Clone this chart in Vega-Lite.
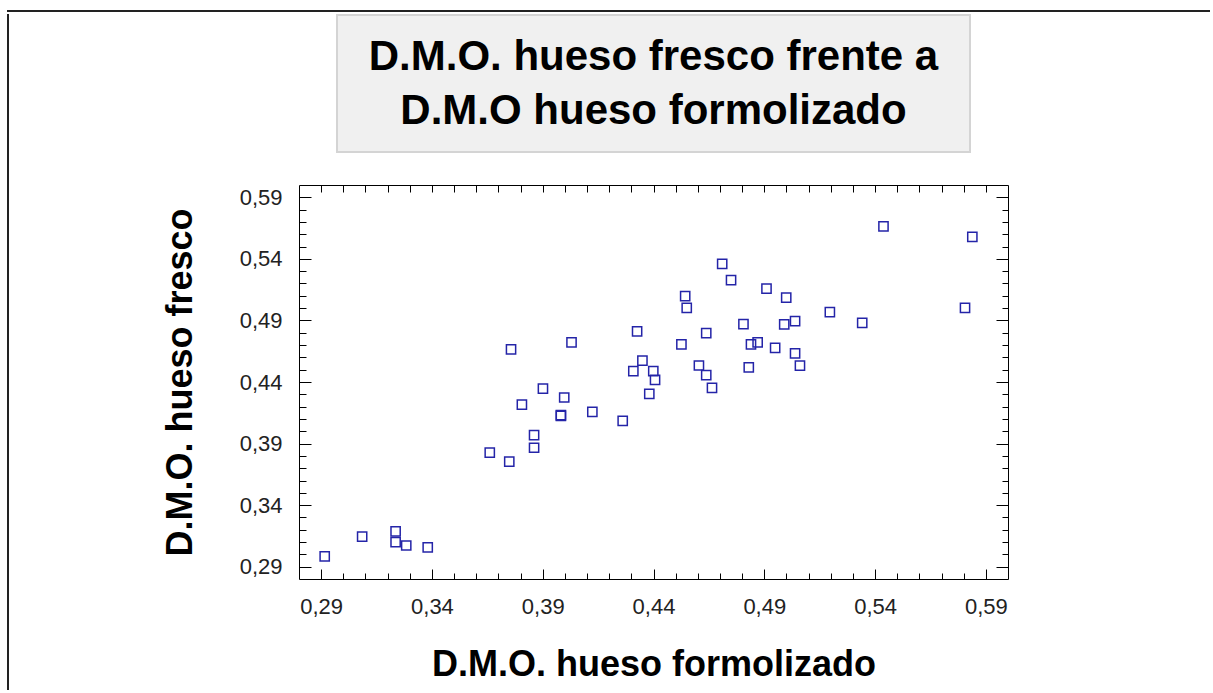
{
  "$schema": "https://vega.github.io/schema/vega-lite/v6.json",
  "background": "white",
  "padding": {"left": 6, "top": 10, "right": 0, "bottom": 0},
  "config": {"view": {"stroke": null}},
  "datasets": {
    "pts": [
      {"x": 0.2916, "y": 0.2983},
      {"x": 0.3085, "y": 0.3145},
      {"x": 0.3236, "y": 0.3186},
      {"x": 0.3236, "y": 0.3100},
      {"x": 0.3284, "y": 0.3072},
      {"x": 0.3381, "y": 0.3056},
      {"x": 0.3661, "y": 0.3826},
      {"x": 0.3749, "y": 0.3753},
      {"x": 0.3757, "y": 0.4665},
      {"x": 0.3806, "y": 0.4217},
      {"x": 0.3861, "y": 0.3969},
      {"x": 0.3861, "y": 0.3866},
      {"x": 0.3901, "y": 0.4347},
      {"x": 0.3997, "y": 0.4274},
      {"x": 0.3982, "y": 0.4131},
      {"x": 0.3982, "y": 0.4125},
      {"x": 0.4030, "y": 0.4722},
      {"x": 0.4124, "y": 0.4158},
      {"x": 0.4261, "y": 0.4085},
      {"x": 0.4309, "y": 0.4489},
      {"x": 0.4326, "y": 0.4811},
      {"x": 0.4350, "y": 0.4574},
      {"x": 0.4381, "y": 0.4304},
      {"x": 0.4399, "y": 0.4489},
      {"x": 0.4407, "y": 0.4418},
      {"x": 0.4526, "y": 0.4706},
      {"x": 0.4543, "y": 0.5098},
      {"x": 0.4550, "y": 0.5002},
      {"x": 0.4605, "y": 0.4534},
      {"x": 0.4638, "y": 0.4797},
      {"x": 0.4638, "y": 0.4455},
      {"x": 0.4664, "y": 0.4353},
      {"x": 0.4710, "y": 0.5359},
      {"x": 0.4750, "y": 0.5227},
      {"x": 0.4806, "y": 0.4870},
      {"x": 0.4830, "y": 0.4519},
      {"x": 0.4840, "y": 0.4706},
      {"x": 0.4870, "y": 0.4722},
      {"x": 0.4910, "y": 0.5159},
      {"x": 0.4949, "y": 0.4677},
      {"x": 0.4990, "y": 0.4868},
      {"x": 0.4999, "y": 0.5086},
      {"x": 0.5039, "y": 0.4894},
      {"x": 0.5039, "y": 0.4633},
      {"x": 0.5061, "y": 0.4533},
      {"x": 0.5196, "y": 0.4968},
      {"x": 0.5342, "y": 0.4881},
      {"x": 0.5438, "y": 0.5664},
      {"x": 0.5806, "y": 0.5002},
      {"x": 0.5839, "y": 0.5578}
    ],
    "titulo": [{"t": ["D.M.O. hueso fresco frente a", "D.M.O hueso formolizado"]}],
    "marco": []
  },
  "vconcat": [
    {
      "width": 1203,
      "height": 1,
      "view": {"stroke": "#222222", "strokeWidth": 2, "strokeDash": [1203, 3000], "fill": null},
      "data": {"name": "marco"},
      "mark": {"type": "text", "opacity": 0},
      "encoding": {"text": {"field": "t", "type": "nominal"}}
    },
    {
      "hconcat": [
        {
          "width": 1,
          "height": 675,
          "view": {"stroke": "#222222", "strokeWidth": 2, "strokeDash": [676, 3000], "fill": null},
          "data": {"name": "marco"},
          "mark": {"type": "text", "opacity": 0},
          "encoding": {"text": {"field": "t", "type": "nominal"}}
        },
        {
          "vconcat": [
            {
              "width": 633,
              "height": 137,
              "view": {"fill": "#f0f0f0", "stroke": "#d4d4d4", "strokeWidth": 2},
              "data": {"name": "titulo"},
              "mark": {"type": "text", "font": "Liberation Sans", "fontWeight": "bold", "fontSize": 42, "lineHeight": 54, "align": "center", "baseline": "middle", "dy": -27, "color": "black"},
              "encoding": {"text": {"field": "t", "type": "nominal"}}
            },
            {
              "width": 709,
              "height": 394,
              "view": {"stroke": "black", "strokeWidth": 1, "fill": "white"},
              "data": {"name": "pts"},
              "layer": [
                {
                  "mark": {"type": "point", "shape": "square", "filled": false, "size": 85, "strokeWidth": 1.5, "color": "#2424a8", "opacity": 1},
                  "encoding": {
                    "x": {
                      "field": "x", "type": "quantitative",
                      "scale": {"domain": [0.28, 0.6], "nice": false, "zero": false},
                      "axis": {
                        "orient": "bottom",
                        "values": [0.29,0.30,0.31,0.32,0.33,0.34,0.35,0.36,0.37,0.38,0.39,0.40,0.41,0.42,0.43,0.44,0.45,0.46,0.47,0.48,0.49,0.50,0.51,0.52,0.53,0.54,0.55,0.56,0.57,0.58,0.59],
                        "labelExpr": "(round(datum.value*100) - 29) % 5 == 0 ? replace(format(datum.value, '.2f'), '.', ',') : ''",
                        "tickSize": {"condition": {"test": "(round(datum.value*100) - 29) % 5 == 0", "value": -10}, "value": -6},
                        "tickColor": "black", "tickWidth": 1,
                        "domain": false, "grid": false,
                        "labelFont": "Liberation Sans", "labelFontSize": 22, "labelColor": "#222222",
                        "labelPadding": 27, "labelOverlap": false, "labelFlush": false, "labelBound": false,
                        "title": "D.M.O. hueso formolizado",
                        "titleFont": "Liberation Sans", "titleFontSize": 36, "titleFontWeight": "bold", "titleColor": "black",
                        "titlePadding": 26
                      }
                    },
                    "y": {
                      "field": "y", "type": "quantitative",
                      "scale": {"domain": [0.28, 0.6], "nice": false, "zero": false},
                      "axis": {
                        "orient": "left",
                        "values": [0.29,0.30,0.31,0.32,0.33,0.34,0.35,0.36,0.37,0.38,0.39,0.40,0.41,0.42,0.43,0.44,0.45,0.46,0.47,0.48,0.49,0.50,0.51,0.52,0.53,0.54,0.55,0.56,0.57,0.58,0.59],
                        "labelExpr": "(round(datum.value*100) - 29) % 5 == 0 ? replace(format(datum.value, '.2f'), '.', ',') : ''",
                        "tickSize": {"condition": {"test": "(round(datum.value*100) - 29) % 5 == 0", "value": -12}, "value": -7},
                        "tickColor": "black", "tickWidth": 1,
                        "domain": false, "grid": false,
                        "labelFont": "Liberation Sans", "labelFontSize": 22, "labelColor": "#222222",
                        "labelPadding": 29, "labelOverlap": false, "labelFlush": false, "labelBound": false,
                        "title": "D.M.O. hueso fresco",
                        "titleFont": "Liberation Sans", "titleFontSize": 36, "titleFontWeight": "bold", "titleColor": "black",
                        "titlePadding": 40
                      }
                    }
                  }
                },
                {
                  "mark": {"type": "point", "opacity": 0},
                  "encoding": {
                    "x": {
                      "field": "x", "type": "quantitative",
                      "axis": {
                        "orient": "top",
                        "values": [0.29,0.30,0.31,0.32,0.33,0.34,0.35,0.36,0.37,0.38,0.39,0.40,0.41,0.42,0.43,0.44,0.45,0.46,0.47,0.48,0.49,0.50,0.51,0.52,0.53,0.54,0.55,0.56,0.57,0.58,0.59],
                        "labels": false, "title": null, "domain": false, "grid": false,
                        "tickSize": -7, "tickColor": "black", "tickWidth": 1
                      }
                    },
                    "y": {
                      "field": "y", "type": "quantitative",
                      "axis": {
                        "orient": "right",
                        "values": [0.29,0.30,0.31,0.32,0.33,0.34,0.35,0.36,0.37,0.38,0.39,0.40,0.41,0.42,0.43,0.44,0.45,0.46,0.47,0.48,0.49,0.50,0.51,0.52,0.53,0.54,0.55,0.56,0.57,0.58,0.59],
                        "labels": false, "title": null, "domain": false, "grid": false,
                        "tickSize": {"condition": {"test": "(round(datum.value*100) - 29) % 5 == 0", "value": -12}, "value": -6},
                        "tickColor": "black", "tickWidth": 1
                      }
                    }
                  }
                }
              ],
              "resolve": {"axis": {"x": "independent", "y": "independent"}}
            }
          ],
          "spacing": 33,
          "center": true,
          "bounds": "flush"
        }
      ],
      "spacing": 152,
      "center": false,
      "bounds": "full"
    }
  ],
  "spacing": 1,
  "center": false,
  "bounds": "full"
}
